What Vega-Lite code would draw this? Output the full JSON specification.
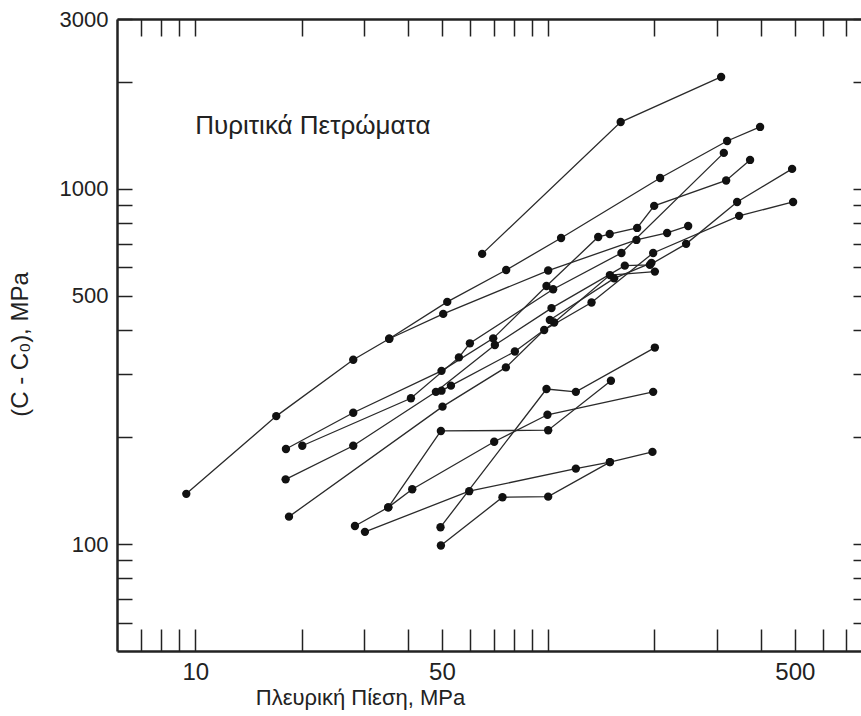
{
  "$schema": "https://vega.github.io/schema/vega-lite/v6.json",
  "autosize": "none",
  "width": 744,
  "height": 632,
  "padding": {"left": 117, "top": 19, "right": 0, "bottom": 65},
  "background": "white",
  "config": {
    "view": {"stroke": null},
    "font": "Liberation Sans",
    "axis": {"grid": false, "labelFont": "Liberation Sans", "titleFont": "Liberation Sans", "labelColor": "#222", "titleColor": "#222", "domainColor": "#222", "tickColor": "#222"}
  },
  "datasets": {
    "pts": [
      {"s": "S1", "i": 1, "x": 65.0, "y": 655},
      {"s": "S1", "i": 2, "x": 160.5, "y": 1539},
      {"s": "S1", "i": 3, "x": 309.1, "y": 2061},
      {"s": "S2", "i": 1, "x": 9.43, "y": 138.4},
      {"s": "S2", "i": 2, "x": 16.96, "y": 229},
      {"s": "S2", "i": 3, "x": 28.03, "y": 330},
      {"s": "S2", "i": 4, "x": 35.45, "y": 378},
      {"s": "S2", "i": 5, "x": 51.76, "y": 480},
      {"s": "S2", "i": 6, "x": 76.03, "y": 590},
      {"s": "S2", "i": 7, "x": 108.8, "y": 726},
      {"s": "S2", "i": 8, "x": 207.6, "y": 1071},
      {"s": "S2", "i": 9, "x": 321.5, "y": 1361},
      {"s": "S2", "i": 10, "x": 398.6, "y": 1491},
      {"s": "S3", "i": 1, "x": 35.45, "y": 378},
      {"s": "S3", "i": 2, "x": 50.42, "y": 444},
      {"s": "S3", "i": 3, "x": 100, "y": 588},
      {"s": "S3", "i": 4, "x": 177.9, "y": 717},
      {"s": "S3", "i": 5, "x": 217.3, "y": 750},
      {"s": "S3", "i": 6, "x": 249.3, "y": 785},
      {"s": "S4", "i": 1, "x": 18.07, "y": 185},
      {"s": "S4", "i": 2, "x": 28.03, "y": 234},
      {"s": "S4", "i": 3, "x": 49.86, "y": 307},
      {"s": "S4", "i": 4, "x": 69.87, "y": 379},
      {"s": "S4", "i": 5, "x": 98.9, "y": 532},
      {"s": "S4", "i": 6, "x": 138.6, "y": 731},
      {"s": "S4", "i": 7, "x": 149.4, "y": 745},
      {"s": "S4", "i": 8, "x": 178.7, "y": 775},
      {"s": "S4", "i": 9, "x": 199.7, "y": 894},
      {"s": "S4", "i": 10, "x": 319.4, "y": 1054},
      {"s": "S4", "i": 11, "x": 373.4, "y": 1204},
      {"s": "S5", "i": 1, "x": 20.1, "y": 189},
      {"s": "S5", "i": 2, "x": 40.84, "y": 257},
      {"s": "S5", "i": 3, "x": 55.85, "y": 335},
      {"s": "S5", "i": 4, "x": 60.0, "y": 367},
      {"s": "S5", "i": 5, "x": 103.3, "y": 521},
      {"s": "S5", "i": 6, "x": 161.3, "y": 659},
      {"s": "S5", "i": 7, "x": 314.6, "y": 1260},
      {"s": "S6", "i": 1, "x": 18.03, "y": 152},
      {"s": "S6", "i": 2, "x": 28.03, "y": 189},
      {"s": "S6", "i": 3, "x": 48.07, "y": 268},
      {"s": "S6", "i": 4, "x": 70.63, "y": 363},
      {"s": "S6", "i": 5, "x": 102.2, "y": 461},
      {"s": "S6", "i": 6, "x": 164.9, "y": 607},
      {"s": "S6", "i": 7, "x": 194.2, "y": 610},
      {"s": "S6", "i": 8, "x": 246.0, "y": 699},
      {"s": "S6", "i": 9, "x": 343.1, "y": 917},
      {"s": "S6", "i": 10, "x": 491.2, "y": 1136},
      {"s": "S7", "i": 1, "x": 18.43, "y": 119.4},
      {"s": "S7", "i": 2, "x": 50.19, "y": 243.5},
      {"s": "S7", "i": 3, "x": 75.88, "y": 314},
      {"s": "S7", "i": 4, "x": 97.43, "y": 400},
      {"s": "S7", "i": 5, "x": 132.7, "y": 478},
      {"s": "S7", "i": 6, "x": 198.4, "y": 659},
      {"s": "S7", "i": 7, "x": 347.6, "y": 838},
      {"s": "S7", "i": 8, "x": 494.4, "y": 917},
      {"s": "S8", "i": 1, "x": 49.86, "y": 270},
      {"s": "S8", "i": 2, "x": 53.02, "y": 279},
      {"s": "S8", "i": 3, "x": 80.47, "y": 348},
      {"s": "S8", "i": 4, "x": 104.0, "y": 420},
      {"s": "S8", "i": 5, "x": 149.6, "y": 571},
      {"s": "S8", "i": 6, "x": 200.6, "y": 584},
      {"s": "S9", "i": 1, "x": 101.1, "y": 427},
      {"s": "S9", "i": 2, "x": 153.8, "y": 559},
      {"s": "S9", "i": 3, "x": 196.2, "y": 618},
      {"s": "L1", "i": 1, "x": 28.34, "y": 112.4},
      {"s": "L1", "i": 2, "x": 35.22, "y": 126.8},
      {"s": "L1", "i": 3, "x": 41.19, "y": 142.6},
      {"s": "L1", "i": 4, "x": 70.31, "y": 194},
      {"s": "L1", "i": 5, "x": 99.54, "y": 231},
      {"s": "L1", "i": 6, "x": 198.4, "y": 268},
      {"s": "L2", "i": 1, "x": 35.22, "y": 126.8},
      {"s": "L2", "i": 2, "x": 49.66, "y": 208},
      {"s": "L2", "i": 3, "x": 100, "y": 209},
      {"s": "L2", "i": 4, "x": 150.6, "y": 288},
      {"s": "L3", "i": 1, "x": 30.25, "y": 108.2},
      {"s": "L3", "i": 2, "x": 59.73, "y": 140.8},
      {"s": "L3", "i": 3, "x": 119.8, "y": 163},
      {"s": "L3", "i": 4, "x": 149.6, "y": 170},
      {"s": "L3", "i": 5, "x": 197.5, "y": 181.6},
      {"s": "L4", "i": 1, "x": 49.66, "y": 99.0},
      {"s": "L4", "i": 2, "x": 74.22, "y": 135.4},
      {"s": "L4", "i": 3, "x": 100, "y": 135.9},
      {"s": "L4", "i": 4, "x": 149.6, "y": 170},
      {"s": "L5", "i": 1, "x": 49.53, "y": 111.5},
      {"s": "L5", "i": 2, "x": 98.9, "y": 273},
      {"s": "L5", "i": 3, "x": 119.8, "y": 268},
      {"s": "L5", "i": 4, "x": 200.6, "y": 357}
    ],
    "note": [{"x": 10, "y": 1500, "label": "Πυριτικά Πετρώματα"}]
  },
  "layer": [
    {
      "data": {"name": "pts"},
      "mark": {"type": "line", "stroke": "#2a2a2a", "strokeWidth": 1.3},
      "encoding": {
        "x": {"field": "x", "type": "quantitative", "scale": {"type": "log", "domain": [6, 770], "nice": false, "zero": false},
          "axis": {"orient": "bottom", "values": [7, 8, 9, 10, 20, 30, 40, 50, 60, 70, 80, 90, 100, 200, 300, 400, 500, 600, 700],
            "labelExpr": "indexof([10, 50, 500], datum.value) >= 0 ? datum.label : ''", "format": "d",
            "tickSize": -22, "tickWidth": 1.5, "domainWidth": 2.5, "labelPadding": 31, "labelFontSize": 24,
            "title": "Πλευρική Πίεση, MPa", "titleFontSize": 22, "titleFontWeight": "normal", "titleX": 243, "titleY": 53, "titleBaseline": "alphabetic", "titleAlign": "center"}},
        "y": {"field": "y", "type": "quantitative", "scale": {"type": "log", "domain": [50, 3000], "nice": false, "zero": false},
          "axis": {"orient": "left", "values": [60, 70, 80, 90, 100, 200, 300, 400, 500, 600, 700, 800, 900, 1000, 2000, 3000],
            "labelExpr": "indexof([100, 500, 1000, 3000], datum.value) >= 0 ? datum.label : ''", "format": "d",
            "tickSize": -15, "tickWidth": 1.5, "domainWidth": 2.5, "labelPadding": 24, "labelFontSize": 22,
            "title": "(C - C₀), MPa", "titleFontSize": 24, "titleFontWeight": "normal", "titleAngle": -90, "titleX": -97, "titleY": 325, "titleAlign": "center", "titleBaseline": "middle"}},
        "detail": {"field": "s"},
        "order": {"field": "i", "type": "quantitative"}
      }
    },
    {
      "data": {"name": "pts"},
      "mark": {"type": "point", "filled": true, "shape": "circle", "size": 70, "color": "#111", "opacity": 1},
      "encoding": {
        "x": {"field": "x", "type": "quantitative",
          "axis": {"orient": "top", "values": [7, 8, 9, 10, 20, 30, 40, 50, 60, 70, 80, 90, 100, 200, 300, 400, 500, 600, 700],
            "labels": false, "title": null, "tickSize": -17, "tickWidth": 1.5, "domainWidth": 2.5}},
        "y": {"field": "y", "type": "quantitative",
          "axis": {"orient": "right", "values": [60, 70, 80, 90, 100, 200, 300, 400, 500, 600, 700, 800, 900, 1000, 2000, 3000],
            "labels": false, "title": null, "domain": false, "tickSize": -8, "tickWidth": 1.5}}
      }
    },
    {
      "data": {"name": "note"},
      "mark": {"type": "text", "align": "left", "baseline": "middle", "fontSize": 26, "font": "Liberation Sans", "color": "#222"},
      "encoding": {
        "x": {"field": "x", "type": "quantitative", "axis": null},
        "y": {"field": "y", "type": "quantitative", "axis": null},
        "text": {"field": "label"}
      }
    }
  ],
  "resolve": {"axis": {"x": "independent", "y": "independent"}}
}
